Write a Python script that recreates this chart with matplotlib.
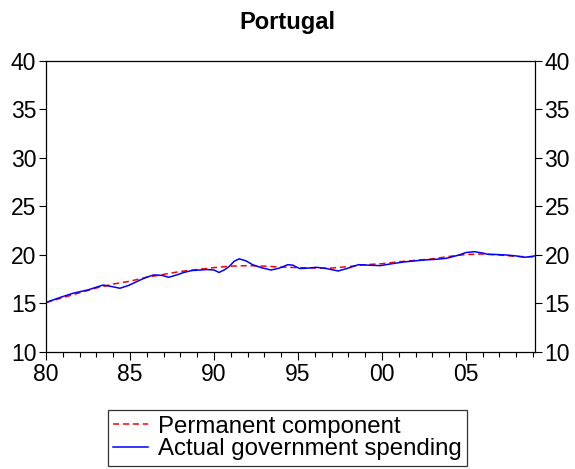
import matplotlib
matplotlib.use("Agg")
import matplotlib.pyplot as plt
from matplotlib.ticker import MultipleLocator, FuncFormatter

plt.rcParams['font.family'] = ['Liberation Sans', 'DejaVu Sans']

perm_years = [1980, 1981, 1982, 1983, 1984, 1985, 1986, 1987, 1988, 1989, 1990, 1991, 1992,
              1993, 1994, 1995, 1996, 1997, 1998, 1999, 2000, 2001, 2002, 2003, 2004, 2005,
              2006, 2007, 2008, 2009]
perm_vals = [15.1, 15.6, 16.1, 16.6, 17.0, 17.3, 17.7, 18.0, 18.3, 18.5, 18.7, 18.85, 18.9,
             18.85, 18.75, 18.7, 18.65, 18.65, 18.8, 19.0, 19.1, 19.3, 19.45, 19.6, 19.85, 20.05,
             20.1, 20.0, 19.85, 19.8]

act_years = [1980.0, 1980.8, 1981.6, 1982.5, 1983.4, 1983.9, 1984.4, 1984.9, 1985.4, 1985.9,
             1986.4, 1986.9, 1987.3, 1987.8, 1988.2, 1988.7, 1989.2, 1989.6, 1990.0, 1990.3,
             1990.6, 1990.9, 1991.2, 1991.5, 1991.9, 1992.3, 1992.8, 1993.4, 1993.9, 1994.4,
             1994.7, 1995.1, 1995.6, 1996.1, 1996.7, 1997.4, 1998.0, 1998.6, 1999.2, 1999.9,
             2000.6, 2001.3, 2002.0, 2002.5, 2003.2, 2003.85, 2004.6, 2005.0, 2005.5, 2006.0,
             2006.3, 2006.8, 2007.4, 2008.0, 2008.5, 2009.1]
act_vals = [15.1, 15.6, 16.05, 16.4, 16.9, 16.75, 16.57, 16.85, 17.25, 17.65,
            17.94, 17.9, 17.7, 17.95, 18.2, 18.4, 18.45, 18.5, 18.45, 18.2,
            18.45, 18.8, 19.35, 19.6, 19.4, 19.0, 18.7, 18.45, 18.65, 19.0,
            18.95, 18.6, 18.65, 18.73, 18.6, 18.35, 18.65, 19.0, 18.95, 18.9,
            19.1, 19.28, 19.4, 19.48, 19.55, 19.66, 20.0, 20.25, 20.34, 20.2,
            20.07, 20.05, 20.0, 19.9, 19.76, 19.9]

fig = plt.figure(figsize=(5.75, 4.69), dpi=100)
ax = fig.add_axes([0.080, 0.2495, 0.850, 0.6205])

ax.plot(perm_years, perm_vals, color='red', linestyle=(0, (4, 2.5)), linewidth=1.1,
        label='Permanent component')
ax.plot(act_years, act_vals, color='blue', linewidth=1.1, label='Actual government spending')

ax.set_xlim(1980, 2009.1)
ax.set_ylim(10, 40)
ax.xaxis.set_major_locator(MultipleLocator(5))
ax.xaxis.set_minor_locator(MultipleLocator(1))
ax.xaxis.set_major_formatter(FuncFormatter(lambda v, p: f"{int(round(v)) % 100:02d}"))
ax.yaxis.set_major_locator(MultipleLocator(5))
ax.tick_params(axis='both', which='major', labelsize=16.5, direction='out', length=5, width=0.8, pad=2)
ax.tick_params(axis='x', which='major', length=6)
ax.tick_params(axis='x', which='minor', direction='out', length=3.5, width=0.8)
ax.tick_params(axis='y', which='both', left=True, right=True, labelleft=True, labelright=True)
for s in ax.spines.values():
    s.set_linewidth(0.9)

fig.text(0.5, 1 - 23 / 469, 'Portugal', fontsize=17, fontweight='bold', ha='center', va='center')

leg = fig.legend(loc='center', bbox_to_anchor=(0.5, 1 - 438 / 469), fontsize=17.3, frameon=True,
                 fancybox=False, edgecolor='black', handlelength=1.45, handletextpad=0.4,
                 borderpad=0.22, labelspacing=0.02, borderaxespad=0)
leg.get_frame().set_linewidth(0.9)

fig.savefig('out.png', dpi=100)
